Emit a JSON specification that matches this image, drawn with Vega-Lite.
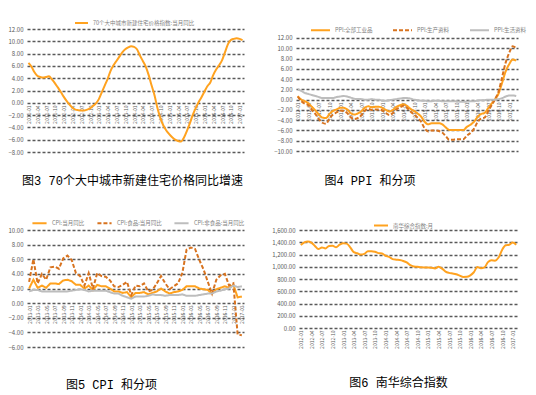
{
"$schema": "https://vega.github.io/schema/vega-lite/v6.json",
"padding": {"left": 8, "top": 15, "right": 0, "bottom": 0},
"background": "white",
"datasets": {
"p1": [
{"m":"2011-01","v":6.5},{"m":"2011-02","v":5.9},{"m":"2011-03","v":5.0},{"m":"2011-04","v":4.4},{"m":"2011-05","v":4.2},{"m":"2011-06","v":4.1},{"m":"2011-07","v":4.2},{"m":"2011-08","v":4.3},{"m":"2011-09","v":3.8},{"m":"2011-10","v":3.2},{"m":"2011-11","v":2.5},{"m":"2011-12","v":1.8},
{"m":"2012-01","v":1.0},{"m":"2012-02","v":0.3},{"m":"2012-03","v":-0.3},{"m":"2012-04","v":-0.8},{"m":"2012-05","v":-1.1},{"m":"2012-06","v":-1.2},{"m":"2012-07","v":-1.25},{"m":"2012-08","v":-1.25},{"m":"2012-09","v":-1.1},{"m":"2012-10","v":-0.9},{"m":"2012-11","v":-0.5},{"m":"2012-12","v":-0.1},
{"m":"2013-01","v":0.6},{"m":"2013-02","v":1.7},{"m":"2013-03","v":2.8},{"m":"2013-04","v":3.9},{"m":"2013-05","v":5.2},{"m":"2013-06","v":6.1},{"m":"2013-07","v":6.8},{"m":"2013-08","v":7.5},{"m":"2013-09","v":8.2},{"m":"2013-10","v":8.7},{"m":"2013-11","v":9.0},{"m":"2013-12","v":9.2},
{"m":"2014-01","v":9.1},{"m":"2014-02","v":8.7},{"m":"2014-03","v":7.7},{"m":"2014-04","v":6.8},{"m":"2014-05","v":5.9},{"m":"2014-06","v":4.5},{"m":"2014-07","v":2.8},{"m":"2014-08","v":1.2},{"m":"2014-09","v":-0.9},{"m":"2014-10","v":-2.5},{"m":"2014-11","v":-3.7},{"m":"2014-12","v":-4.5},
{"m":"2015-01","v":-5.1},{"m":"2015-02","v":-5.6},{"m":"2015-03","v":-6.0},{"m":"2015-04","v":-6.2},{"m":"2015-05","v":-6.3},{"m":"2015-06","v":-5.7},{"m":"2015-07","v":-4.6},{"m":"2015-08","v":-3.4},{"m":"2015-09","v":-2.0},{"m":"2015-10","v":-0.9},{"m":"2015-11","v":0.1},{"m":"2015-12","v":0.9},
{"m":"2016-01","v":1.8},{"m":"2016-02","v":2.7},{"m":"2016-03","v":3.3},{"m":"2016-04","v":4.5},{"m":"2016-05","v":5.4},{"m":"2016-06","v":6.1},{"m":"2016-07","v":6.9},{"m":"2016-08","v":8.2},{"m":"2016-09","v":9.5},{"m":"2016-10","v":10.2},{"m":"2016-11","v":10.4},{"m":"2016-12","v":10.5},
{"m":"2017-01","v":10.4},{"m":"2017-02","v":10.2}
],
"p2": [
{"m":"2012-01","a":0.7,"b":0.6,"c":2.0},{"m":"2012-02","a":0.0,"b":-0.3,"c":1.7},{"m":"2012-03","a":-0.3,"b":-0.8,"c":1.3},{"m":"2012-04","a":-0.7,"b":-1.1,"c":1.1},{"m":"2012-05","a":-1.4,"b":-2.0,"c":0.9},{"m":"2012-06","a":-2.1,"b":-2.8,"c":0.7},{"m":"2012-07","a":-2.9,"b":-3.8,"c":0.5},{"m":"2012-08","a":-3.5,"b":-4.5,"c":0.3},{"m":"2012-09","a":-3.6,"b":-4.7,"c":0.3},{"m":"2012-10","a":-2.8,"b":-3.7,"c":0.3},{"m":"2012-11","a":-2.2,"b":-2.9,"c":0.3},{"m":"2012-12","a":-1.9,"b":-2.5,"c":0.5},
{"m":"2013-01","a":-1.6,"b":-2.1,"c":0.6},{"m":"2013-02","a":-1.6,"b":-2.2,"c":0.7},{"m":"2013-03","a":-1.9,"b":-2.6,"c":0.6},{"m":"2013-04","a":-2.6,"b":-3.4,"c":0.4},{"m":"2013-05","a":-2.9,"b":-3.8,"c":0.2},{"m":"2013-06","a":-2.7,"b":-3.6,"c":0.1},{"m":"2013-07","a":-2.3,"b":-3.1,"c":0.1},{"m":"2013-08","a":-1.6,"b":-2.2,"c":0.0},{"m":"2013-09","a":-1.3,"b":-1.8,"c":0.0},{"m":"2013-10","a":-1.5,"b":-2.0,"c":0.1},{"m":"2013-11","a":-1.4,"b":-1.9,"c":0.0},{"m":"2013-12","a":-1.4,"b":-1.9,"c":0.0},
{"m":"2014-01","a":-1.6,"b":-2.1,"c":-0.2},{"m":"2014-02","a":-2.0,"b":-2.6,"c":-0.2},{"m":"2014-03","a":-2.3,"b":-3.0,"c":-0.1},{"m":"2014-04","a":-2.0,"b":-2.6,"c":0.0},{"m":"2014-05","a":-1.4,"b":-1.9,"c":0.1},{"m":"2014-06","a":-1.1,"b":-1.5,"c":0.2},{"m":"2014-07","a":-0.9,"b":-1.2,"c":0.3},{"m":"2014-08","a":-1.2,"b":-1.6,"c":0.3},{"m":"2014-09","a":-1.8,"b":-2.3,"c":0.2},{"m":"2014-10","a":-2.2,"b":-2.9,"c":0.0},{"m":"2014-11","a":-2.7,"b":-3.5,"c":-0.1},{"m":"2014-12","a":-3.3,"b":-4.3,"c":-0.2},
{"m":"2015-01","a":-4.3,"b":-5.6,"c":-0.2},{"m":"2015-02","a":-4.8,"b":-6.2,"c":-0.3},{"m":"2015-03","a":-4.6,"b":-6.0,"c":-0.3},{"m":"2015-04","a":-4.6,"b":-6.0,"c":-0.2},{"m":"2015-05","a":-4.6,"b":-6.1,"c":-0.2},{"m":"2015-06","a":-4.8,"b":-6.4,"c":-0.3},{"m":"2015-07","a":-5.4,"b":-7.1,"c":-0.3},{"m":"2015-08","a":-5.9,"b":-7.8,"c":-0.3},{"m":"2015-09","a":-5.9,"b":-7.8,"c":-0.3},{"m":"2015-10","a":-5.9,"b":-7.7,"c":-0.3},{"m":"2015-11","a":-5.9,"b":-7.7,"c":-0.4},{"m":"2015-12","a":-5.9,"b":-7.7,"c":-0.4},
{"m":"2016-01","a":-5.3,"b":-7.0,"c":-0.4},{"m":"2016-02","a":-4.9,"b":-6.5,"c":-0.3},{"m":"2016-03","a":-4.3,"b":-5.7,"c":-0.3},{"m":"2016-04","a":-3.4,"b":-4.4,"c":-0.2},{"m":"2016-05","a":-2.8,"b":-3.7,"c":-0.1},{"m":"2016-06","a":-2.6,"b":-3.5,"c":-0.1},{"m":"2016-07","a":-1.7,"b":-2.3,"c":0.0},{"m":"2016-08","a":-0.8,"b":-1.1,"c":0.0},{"m":"2016-09","a":0.1,"b":0.1,"c":0.0},{"m":"2016-10","a":1.2,"b":1.6,"c":0.1},{"m":"2016-11","a":3.3,"b":4.4,"c":0.3},{"m":"2016-12","a":5.5,"b":7.2,"c":0.6},
{"m":"2017-01","a":6.9,"b":9.1,"c":0.8},{"m":"2017-02","a":7.8,"b":10.4,"c":0.8},{"m":"2017-03","a":7.6,"b":10.0,"c":0.7}
],
"p3": [
{"m":"2013-01","a":2.0,"b":2.9,"c":1.6},{"m":"2013-02","a":3.2,"b":6.0,"c":1.8},{"m":"2013-03","a":2.1,"b":2.7,"c":1.8},{"m":"2013-04","a":2.4,"b":4.0,"c":1.6},{"m":"2013-05","a":2.1,"b":3.2,"c":1.6},{"m":"2013-06","a":2.7,"b":4.9,"c":1.6},{"m":"2013-07","a":2.7,"b":5.0,"c":1.6},{"m":"2013-08","a":2.6,"b":4.7,"c":1.6},{"m":"2013-09","a":3.1,"b":6.1,"c":1.6},{"m":"2013-10","a":3.2,"b":6.5,"c":1.6},{"m":"2013-11","a":3.0,"b":5.9,"c":1.7},{"m":"2013-12","a":2.5,"b":4.1,"c":1.8},
{"m":"2014-01","a":2.5,"b":3.7,"c":1.9},{"m":"2014-02","a":2.0,"b":2.4,"c":1.8},{"m":"2014-03","a":2.4,"b":4.1,"c":1.6},{"m":"2014-04","a":1.8,"b":2.0,"c":1.7},{"m":"2014-05","a":2.5,"b":4.1,"c":1.7},{"m":"2014-06","a":2.3,"b":3.7,"c":1.7},{"m":"2014-07","a":2.3,"b":3.6,"c":1.7},{"m":"2014-08","a":2.0,"b":3.1,"c":1.5},{"m":"2014-09","a":1.6,"b":2.3,"c":1.3},{"m":"2014-10","a":1.6,"b":2.2,"c":1.3},{"m":"2014-11","a":1.4,"b":2.5,"c":1.0},{"m":"2014-12","a":1.5,"b":2.9,"c":0.8},
{"m":"2015-01","a":0.8,"b":1.1,"c":0.6},{"m":"2015-02","a":1.4,"b":2.4,"c":0.9},{"m":"2015-03","a":1.4,"b":2.3,"c":0.9},{"m":"2015-04","a":1.5,"b":2.7,"c":0.9},{"m":"2015-05","a":1.2,"b":1.6,"c":1.0},{"m":"2015-06","a":1.4,"b":1.8,"c":1.2},{"m":"2015-07","a":1.6,"b":2.7,"c":1.1},{"m":"2015-08","a":2.0,"b":3.7,"c":1.1},{"m":"2015-09","a":1.6,"b":2.7,"c":1.0},{"m":"2015-10","a":1.3,"b":1.9,"c":1.1},{"m":"2015-11","a":1.5,"b":2.3,"c":1.1},{"m":"2015-12","a":1.6,"b":2.7,"c":1.1},
{"m":"2016-01","a":1.8,"b":4.1,"c":1.2},{"m":"2016-02","a":2.3,"b":7.3,"c":1.0},{"m":"2016-03","a":2.3,"b":7.6,"c":1.0},{"m":"2016-04","a":2.3,"b":7.4,"c":1.0},{"m":"2016-05","a":2.0,"b":5.9,"c":1.1},{"m":"2016-06","a":1.9,"b":4.6,"c":1.2},{"m":"2016-07","a":1.8,"b":2.9,"c":1.3},{"m":"2016-08","a":1.3,"b":1.3,"c":1.3},{"m":"2016-09","a":1.9,"b":3.2,"c":1.6},{"m":"2016-10","a":2.1,"b":3.8,"c":1.7},{"m":"2016-11","a":2.3,"b":4.0,"c":1.9},{"m":"2016-12","a":2.1,"b":2.4,"c":2.0},
{"m":"2017-01","a":2.5,"b":2.7,"c":2.4},{"m":"2017-02","a":0.8,"b":-4.3,"c":2.2},{"m":"2017-03","a":0.9,"b":-4.4,"c":2.3}
],
"p4": [
{"m":"2012-01","v":1354},{"m":"2012-02","v":1397},{"m":"2012-03","v":1414},{"m":"2012-04","v":1395},{"m":"2012-05","v":1340},{"m":"2012-06","v":1290},{"m":"2012-07","v":1315},{"m":"2012-08","v":1300},{"m":"2012-09","v":1340},{"m":"2012-10","v":1343},{"m":"2012-11","v":1318},{"m":"2012-12","v":1360},
{"m":"2013-01","v":1385},{"m":"2013-02","v":1378},{"m":"2013-03","v":1318},{"m":"2013-04","v":1238},{"m":"2013-05","v":1220},{"m":"2013-06","v":1198},{"m":"2013-07","v":1210},{"m":"2013-08","v":1255},{"m":"2013-09","v":1255},{"m":"2013-10","v":1245},{"m":"2013-11","v":1222},{"m":"2013-12","v":1215},
{"m":"2014-01","v":1180},{"m":"2014-02","v":1160},{"m":"2014-03","v":1125},{"m":"2014-04","v":1115},{"m":"2014-05","v":1110},{"m":"2014-06","v":1095},{"m":"2014-07","v":1070},{"m":"2014-08","v":1025},{"m":"2014-09","v":1005},{"m":"2014-10","v":1000},{"m":"2014-11","v":990},{"m":"2014-12","v":988},
{"m":"2015-01","v":988},{"m":"2015-02","v":985},{"m":"2015-03","v":972},{"m":"2015-04","v":998},{"m":"2015-05","v":970},{"m":"2015-06","v":920},{"m":"2015-07","v":900},{"m":"2015-08","v":890},{"m":"2015-09","v":878},{"m":"2015-10","v":855},{"m":"2015-11","v":833},{"m":"2015-12","v":835},
{"m":"2016-01","v":860},{"m":"2016-02","v":910},{"m":"2016-03","v":995},{"m":"2016-04","v":975},{"m":"2016-05","v":990},{"m":"2016-06","v":1075},{"m":"2016-07","v":1105},{"m":"2016-08","v":1100},{"m":"2016-09","v":1150},{"m":"2016-10","v":1275},{"m":"2016-11","v":1350},{"m":"2016-12","v":1360},
{"m":"2017-01","v":1395},{"m":"2017-02","v":1360}
]
},
"config": {
"font": "Noto Sans CJK SC",
"view": {"stroke": null},
"axis": {"labelFont": "Noto Sans CJK SC", "labelColor": "#595959", "labelFontSize": 6, "domain": false, "ticks": false, "title": null, "gridColor": "#595959", "gridDash": [3, 2], "gridWidth": 1.3},
"axisX": {"grid": false, "labelAngle": -90, "labelFontSize": 5, "labelPadding": 2},
"axisY": {"labelPadding": 4},
"legend": {"direction": "horizontal", "symbolType": "stroke", "symbolStrokeWidth": 2, "labelFontSize": 5.5, "labelColor": "#7f7f7f", "labelFont": "Noto Sans CJK SC", "title": null},
"title": {"orient": "bottom", "frame": "group", "fontSize": 12, "fontWeight": "normal", "color": "#000000", "font": "'Liberation Mono', 'Noto Sans CJK SC'"},
"line": {"strokeWidth": 2}
},
"spacing": 27,
"vconcat": [
{
"spacing": 52,
"bounds": "flush",
"resolve": {"scale": {"color": "independent", "strokeDash": "independent", "x": "independent", "y": "independent"}, "legend": {"color": "independent", "strokeDash": "independent"}},
"hconcat": [
{
"width": 217, "height": 123,
"data": {"name": "p1"},
"title": {"text": "图3 70个大中城市新建住宅价格同比增速", "offset": 21, "dx": -3},
"mark": {"type": "line", "interpolate": "monotone"},
"encoding": {
"x": {"field": "m", "type": "ordinal", "scale": {"type": "point", "padding": 0.5}, "axis": {"offset": -49, "values": ["2011-01","2011-04","2011-07","2011-10","2012-01","2012-04","2012-07","2012-10","2013-01","2013-04","2013-07","2013-10","2014-01","2014-04","2014-07","2014-10","2015-01","2015-04","2015-07","2015-10","2016-01","2016-04","2016-07","2016-10","2017-01"]}},
"y": {"field": "v", "type": "quantitative", "scale": {"domain": [-8, 12], "nice": false}, "axis": {"values": [-8,-6,-4,-2,0,2,4,6,8,10,12], "format": ".2f"}},
"color": {"datum": "70个大中城市新建住宅价格指数:当月同比", "scale": {"range": ["#FFA21F"]}, "legend": {"orient": "none", "legendX": 47, "legendY": -13.5, "symbolSize": 169}}
}
},
{
"width": 222, "height": 122,
"data": {"name": "p2"},
"transform": [{"fold": ["a", "b", "c"], "as": ["s", "v"]}],
"title": {"text": "图4 PPI 和分项", "offset": 22, "dx": -37},
"mark": {"type": "line", "interpolate": "monotone"},
"encoding": {
"x": {"field": "m", "type": "ordinal", "scale": {"type": "point", "padding": 0.5}, "axis": {"offset": -51, "values": ["2012-01","2012-04","2012-07","2012-10","2013-01","2013-04","2013-07","2013-10","2014-01","2014-04","2014-07","2014-10","2015-01","2015-04","2015-07","2015-10","2016-01","2016-04","2016-07","2016-10","2017-01"]}},
"y": {"field": "v", "type": "quantitative", "scale": {"domain": [-10, 13.75], "nice": false}, "axis": {"values": [-10,-8,-6,-4,-2,0,2,4,6,8,10,12], "format": ".2f"}},
"color": {"field": "s", "type": "nominal", "scale": {"domain": ["a", "b", "c"], "range": ["#FFA21F", "#D8731F", "#BDBDBD"]}, "legend": {"orient": "none", "legendX": 14, "legendY": -9.5, "symbolSize": 361, "columnPadding": 16, "labelExpr": "{'a': 'PPI:全部工业品', 'b': 'PPI:生产资料', 'c': 'PPI:生活资料'}[datum.label]"}},
"strokeDash": {"field": "s", "type": "nominal", "scale": {"domain": ["a", "b", "c"], "range": [[1, 0], [4, 2], [1, 0]]}, "legend": {"orient": "none", "legendX": 14, "legendY": -9.5, "symbolSize": 361, "columnPadding": 16, "labelExpr": "{'a': 'PPI:全部工业品', 'b': 'PPI:生产资料', 'c': 'PPI:生活资料'}[datum.label]"}}
}
}
]
},
{
"spacing": 55,
"bounds": "flush",
"resolve": {"scale": {"color": "independent", "strokeDash": "independent", "x": "independent", "y": "independent"}, "legend": {"color": "independent", "strokeDash": "independent"}},
"hconcat": [
{
"width": 217, "height": 117,
"data": {"name": "p3"},
"transform": [{"fold": ["a", "b", "c"], "as": ["s", "v"]}],
"title": {"text": "图5 CPI 和分项", "offset": 30, "dx": -24},
"mark": {"type": "line"},
"encoding": {
"x": {"field": "m", "type": "ordinal", "scale": {"type": "point", "padding": 0.5}, "axis": {"offset": -44, "values": ["2013-01","2013-03","2013-05","2013-07","2013-09","2013-11","2014-01","2014-03","2014-05","2014-07","2014-09","2014-11","2015-01","2015-03","2015-05","2015-07","2015-09","2015-11","2016-01","2016-03","2016-05","2016-07","2016-09","2016-11","2017-01","2017-03"]}},
"y": {"field": "v", "type": "quantitative", "scale": {"domain": [-6, 10], "nice": false}, "axis": {"values": [-6,-4,-2,0,2,4,6,8,10], "format": ".2f"}},
"color": {"field": "s", "type": "nominal", "scale": {"domain": ["a", "b", "c"], "range": ["#FFA21F", "#D8731F", "#BDBDBD"]}, "legend": {"orient": "none", "legendX": 4, "legendY": -15.5, "symbolSize": 200, "columnPadding": 8, "labelExpr": "{'a': 'CPI:当月同比', 'b': 'CPI:食品:当月同比', 'c': 'CPI:非食品:当月同比'}[datum.label]"}},
"strokeDash": {"field": "s", "type": "nominal", "scale": {"domain": ["a", "b", "c"], "range": [[1, 0], [4, 2], [1, 0]]}, "legend": {"orient": "none", "legendX": 4, "legendY": -15.5, "symbolSize": 200, "columnPadding": 8, "labelExpr": "{'a': 'CPI:当月同比', 'b': 'CPI:食品:当月同比', 'c': 'CPI:非食品:当月同比'}[datum.label]"}}
}
},
{
"width": 219, "height": 98,
"data": {"name": "p4"},
"title": {"text": "图6 南华综合指数", "offset": 30, "dx": -10},
"mark": {"type": "line", "interpolate": "monotone"},
"encoding": {
"x": {"field": "m", "type": "ordinal", "scale": {"type": "point", "padding": 0.5}, "axis": {"values": ["2012-01","2012-04","2012-07","2012-10","2013-01","2013-04","2013-07","2013-10","2014-01","2014-04","2014-07","2014-10","2015-01","2015-04","2015-07","2015-10","2016-01","2016-04","2016-07","2016-10","2017-01"]}},
"y": {"field": "v", "type": "quantitative", "scale": {"domain": [0, 1600], "nice": false}, "axis": {"values": [0,200,400,600,800,1000,1200,1400,1600], "format": ",.2f"}},
"color": {"datum": "南华综合指数:月", "scale": {"range": ["#FFA21F"]}, "legend": {"orient": "none", "legendX": 74, "legendY": -12.5, "symbolSize": 196}}
}
}
]
}
]
}
